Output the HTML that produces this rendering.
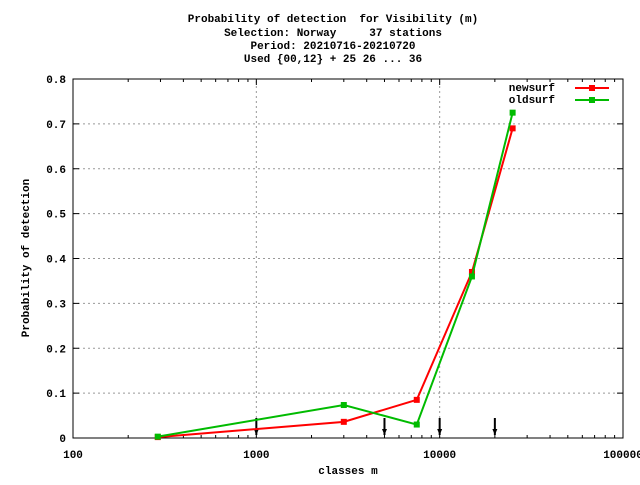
<!DOCTYPE html>
<html><head><meta charset="utf-8"><style>
body{margin:0;background:#fff}
svg text{font-family:"Liberation Mono","DejaVu Sans Mono",monospace;font-weight:bold;font-size:11px;fill:#000;white-space:pre}
</style></head><body>
<svg id="chart" width="640" height="480" xmlns="http://www.w3.org/2000/svg">
<rect width="640" height="480" fill="#fff"/>
<g>
<text x="333" y="22" text-anchor="middle" xml:space="preserve">Probability of detection  for Visibility (m)</text>
<text x="333" y="36" text-anchor="middle" xml:space="preserve">Selection: Norway     37 stations</text>
<text x="333" y="49" text-anchor="middle">Period: 20210716-20210720</text>
<text x="333" y="62" text-anchor="middle">Used {00,12} + 25 26 ... 36</text>
</g>
<g id="grid"></g>
<g id="axes"></g>
<g id="series"></g>
<text x="348" y="474" text-anchor="middle">classes m</text>
<text transform="translate(29,258) rotate(-90)" text-anchor="middle">Probability of detection</text>
<g>
<text x="555" y="91" text-anchor="end">newsurf</text>
<line x1="575" y1="88" x2="609" y2="88" stroke="#f00" stroke-width="2"/>
<rect x="589" y="85" width="6" height="6" fill="#f00"/>
<text x="555" y="103" text-anchor="end">oldsurf</text>
<line x1="575" y1="100" x2="609" y2="100" stroke="#0b0" stroke-width="2"/>
<rect x="589" y="97" width="6" height="6" fill="#0b0"/>
</g>
</svg>
<script>
const xCats=[290,3000,7500,15000,25000];
const newsurf=[0.002,0.036,0.085,0.37,0.69];
const oldsurf=[0.003,0.0735,0.030,0.36,0.725];
const arrowX=[1000,5000,10000,20000];
const yTicks=[0,0.1,0.2,0.3,0.4,0.5,0.6,0.7,0.8];
const xTicks=[100,1000,10000,100000];
const X0=73,X1=623,Y0=438,Y1=79;
const NS='http://www.w3.org/2000/svg';
function xs(v){return X0+(Math.log10(v)-2)/3*(X1-X0);}
function ys(v){return Y0-v/0.8*(Y0-Y1);}
function mk(tag,attrs,parent){const e=document.createElementNS(NS,tag);for(const k in attrs)e.setAttribute(k,attrs[k]);parent.appendChild(e);return e;}
const grid=document.getElementById('grid'),axes=document.getElementById('axes'),ser=document.getElementById('series');
yTicks.forEach(t=>{const y=ys(t);
 if(t>0&&t<0.8){const g=mk('line',{x1:X0,x2:X1,y1:y,y2:y,stroke:'#999','stroke-dasharray':'2,3'},grid);
 
 }
 mk('line',{x1:X0,x2:X0+6,y1:y,y2:y,stroke:'#000'},axes);
 mk('line',{x1:X1-6,x2:X1,y1:y,y2:y,stroke:'#000'},axes);
 const tx=mk('text',{x:X0-7,y:y+4,'text-anchor':'end'},axes);tx.textContent=t===0?'0':String(t);
 
 
});
xTicks.forEach((t,i)=>{const x=xs(t);
 if(i>0&&i<3){const g=mk('line',{x1:x,x2:x,y1:Y0,y2:Y1,stroke:'#999','stroke-dasharray':'2,3'},grid);
 
 }
 mk('line',{x1:x,x2:x,y1:Y0,y2:Y0-6,stroke:'#000'},axes);
 mk('line',{x1:x,x2:x,y1:Y1,y2:Y1+6,stroke:'#000'},axes);
 const tx=mk('text',{x:x,y:Y0+20,'text-anchor':'middle'},axes);tx.textContent=String(t);
 
 
 if(i<3)for(let m=2;m<10;m++){const mx=xs(t*m);
  mk('line',{x1:mx,x2:mx,y1:Y0,y2:Y0-3,stroke:'#000'},axes);
  mk('line',{x1:mx,x2:mx,y1:Y1,y2:Y1+3,stroke:'#000'},axes);}
});
mk('rect',{x:X0,y:Y1,width:X1-X0,height:Y0-Y1,fill:'none',stroke:'#000'},axes);
arrowX.forEach(v=>{const x=xs(v);
 const a=mk('line',{x1:x,x2:x,y1:Y0-20,y2:Y0-3,stroke:'#000','stroke-width':2},axes);
 
 
 mk('polygon',{points:`${x-2.5},${Y0-9} ${x+2.5},${Y0-9} ${x},${Y0-3}`,fill:'#000'},axes);
});
function draw(vals,col,name){
 const pts=xCats.map((c,i)=>xs(c)+','+ys(vals[i])).join(' ');
 const p=mk('polyline',{points:pts,fill:'none',stroke:col,'stroke-width':2},ser);
 
 
 xCats.forEach((c,i)=>{const r=mk('rect',{x:xs(c)-3,y:ys(vals[i])-3,width:6,height:6,fill:col},ser);
  
  });
}
draw(newsurf,'#f00','newsurf');
draw(oldsurf,'#0b0','oldsurf');
</script>
</body></html>
